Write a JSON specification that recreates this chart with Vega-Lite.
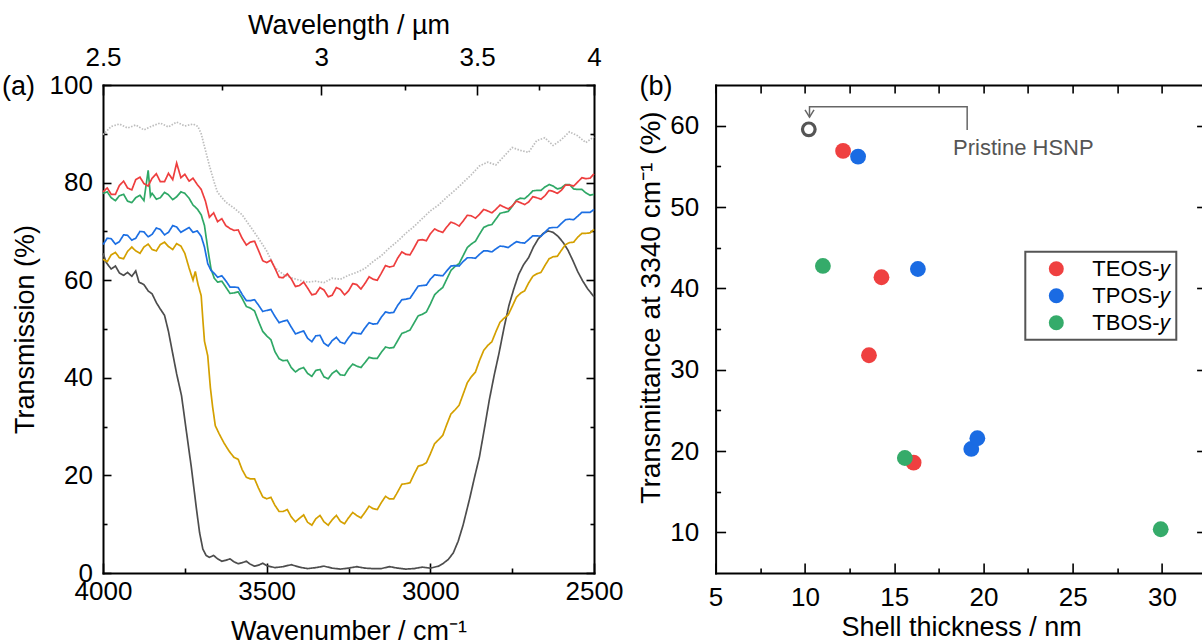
{
"$schema": "https://vega.github.io/schema/vega-lite/v6.json",
"background": "white",
"padding": {"left": 2, "top": 11, "right": 0, "bottom": 0},
"bounds": "flush",
"spacing": 121.6,
"resolve": {"scale": {"color": "independent", "strokeDash": "independent"}, "legend": {"color": "independent"}},
"config": {
  "font": "Liberation Sans",
  "view": {"stroke": null},
  "axis": {"domainColor": "#000", "domainWidth": 2, "domainCap": "square", "tickColor": "#000", "tickWidth": 1.6, "labelColor": "#000", "titleColor": "#000", "labelFontSize": 26, "titleFontSize": 27, "titleFontWeight": "normal", "grid": false, "labelFont": "Liberation Sans", "titleFont": "Liberation Sans", "labelOverlap": false, "labelFlush": false},
  "legend": {"strokeWidth": 2}
},
"datasets": {
  "spectra": [
{"s":"p","w":4000,"t":89.8},{"s":"p","w":3975,"t":91.5},{"s":"p","w":3950,"t":92.0},{"s":"p","w":3925,"t":91.2},{"s":"p","w":3900,"t":91.8},{"s":"p","w":3875,"t":90.8},{"s":"p","w":3850,"t":91.6},{"s":"p","w":3825,"t":92.2},{"s":"p","w":3800,"t":91.4},{"s":"p","w":3775,"t":92.4},{"s":"p","w":3750,"t":91.6},{"s":"p","w":3725,"t":92.0},{"s":"p","w":3710,"t":91.5},{"s":"p","w":3700,"t":90.0},{"s":"p","w":3690,"t":87.4},{"s":"p","w":3675,"t":83.5},{"s":"p","w":3660,"t":80.0},{"s":"p","w":3650,"t":78.0},{"s":"p","w":3625,"t":76.0},{"s":"p","w":3600,"t":74.8},{"s":"p","w":3575,"t":73.4},{"s":"p","w":3550,"t":71.0},{"s":"p","w":3525,"t":68.6},{"s":"p","w":3500,"t":66.0},{"s":"p","w":3475,"t":62.6},{"s":"p","w":3450,"t":61.2},{"s":"p","w":3425,"t":60.5},{"s":"p","w":3400,"t":60.0},{"s":"p","w":3375,"t":59.6},{"s":"p","w":3350,"t":59.8},{"s":"p","w":3325,"t":59.5},{"s":"p","w":3300,"t":60.4},{"s":"p","w":3275,"t":60.2},{"s":"p","w":3250,"t":61.0},{"s":"p","w":3225,"t":61.6},{"s":"p","w":3200,"t":62.4},{"s":"p","w":3175,"t":63.8},{"s":"p","w":3150,"t":65.0},{"s":"p","w":3125,"t":66.6},{"s":"p","w":3100,"t":68.0},{"s":"p","w":3075,"t":69.6},{"s":"p","w":3050,"t":71.0},{"s":"p","w":3025,"t":72.6},{"s":"p","w":3000,"t":74.2},{"s":"p","w":2975,"t":75.4},{"s":"p","w":2950,"t":77.0},{"s":"p","w":2925,"t":78.4},{"s":"p","w":2900,"t":80.0},{"s":"p","w":2875,"t":81.6},{"s":"p","w":2850,"t":83.4},{"s":"p","w":2825,"t":84.2},{"s":"p","w":2800,"t":83.6},{"s":"p","w":2775,"t":85.4},{"s":"p","w":2750,"t":87.2},{"s":"p","w":2725,"t":86.6},{"s":"p","w":2700,"t":86.2},{"s":"p","w":2675,"t":88.6},{"s":"p","w":2650,"t":89.2},{"s":"p","w":2625,"t":87.6},{"s":"p","w":2600,"t":88.8},{"s":"p","w":2575,"t":90.4},{"s":"p","w":2550,"t":89.6},{"s":"p","w":2525,"t":88.2},{"s":"p","w":2500,"t":89.4},
{"s":"k","w":4000,"t":65.5},{"s":"k","w":3990,"t":63.6},{"s":"k","w":3975,"t":62.3},{"s":"k","w":3962,"t":62.9},{"s":"k","w":3950,"t":61.5},{"s":"k","w":3937,"t":61.0},{"s":"k","w":3925,"t":61.6},{"s":"k","w":3912,"t":60.8},{"s":"k","w":3900,"t":61.9},{"s":"k","w":3890,"t":59.6},{"s":"k","w":3875,"t":59.1},{"s":"k","w":3862,"t":57.8},{"s":"k","w":3850,"t":57.2},{"s":"k","w":3837,"t":55.4},{"s":"k","w":3825,"t":54.1},{"s":"k","w":3812,"t":52.8},{"s":"k","w":3800,"t":49.5},{"s":"k","w":3790,"t":46.0},{"s":"k","w":3775,"t":40.8},{"s":"k","w":3760,"t":36.3},{"s":"k","w":3745,"t":28.9},{"s":"k","w":3730,"t":21.6},{"s":"k","w":3715,"t":13.4},{"s":"k","w":3705,"t":8.3},{"s":"k","w":3695,"t":4.9},{"s":"k","w":3685,"t":3.6},{"s":"k","w":3675,"t":3.2},{"s":"k","w":3662,"t":3.6},{"s":"k","w":3650,"t":2.9},{"s":"k","w":3637,"t":2.4},{"s":"k","w":3625,"t":2.6},{"s":"k","w":3612,"t":2.9},{"s":"k","w":3600,"t":2.3},{"s":"k","w":3587,"t":1.9},{"s":"k","w":3575,"t":2.1},{"s":"k","w":3562,"t":2.4},{"s":"k","w":3550,"t":1.8},{"s":"k","w":3537,"t":1.4},{"s":"k","w":3525,"t":1.6},{"s":"k","w":3512,"t":2.0},{"s":"k","w":3500,"t":1.5},{"s":"k","w":3475,"t":1.1},{"s":"k","w":3450,"t":1.3},{"s":"k","w":3425,"t":1.7},{"s":"k","w":3400,"t":1.2},{"s":"k","w":3375,"t":0.9},{"s":"k","w":3350,"t":1.1},{"s":"k","w":3325,"t":1.4},{"s":"k","w":3300,"t":1.0},{"s":"k","w":3275,"t":0.8},{"s":"k","w":3250,"t":1.0},{"s":"k","w":3225,"t":1.3},{"s":"k","w":3200,"t":1.0},{"s":"k","w":3175,"t":0.9},{"s":"k","w":3150,"t":0.9},{"s":"k","w":3125,"t":1.3},{"s":"k","w":3100,"t":1.0},{"s":"k","w":3075,"t":0.8},{"s":"k","w":3050,"t":0.9},{"s":"k","w":3025,"t":1.2},{"s":"k","w":3000,"t":1.0},{"s":"k","w":2975,"t":1.4},{"s":"k","w":2960,"t":2.0},{"s":"k","w":2945,"t":2.8},{"s":"k","w":2930,"t":4.1},{"s":"k","w":2915,"t":6.5},{"s":"k","w":2900,"t":9.8},{"s":"k","w":2880,"t":15.2},{"s":"k","w":2865,"t":19.6},{"s":"k","w":2850,"t":23.8},{"s":"k","w":2835,"t":29.5},{"s":"k","w":2820,"t":35.4},{"s":"k","w":2805,"t":40.5},{"s":"k","w":2790,"t":45.1},{"s":"k","w":2775,"t":50.2},{"s":"k","w":2760,"t":54.8},{"s":"k","w":2745,"t":58.2},{"s":"k","w":2730,"t":61.2},{"s":"k","w":2715,"t":63.2},{"s":"k","w":2700,"t":64.6},{"s":"k","w":2685,"t":66.8},{"s":"k","w":2670,"t":68.5},{"s":"k","w":2655,"t":69.6},{"s":"k","w":2640,"t":70.1},{"s":"k","w":2625,"t":69.8},{"s":"k","w":2610,"t":69.0},{"s":"k","w":2595,"t":67.8},{"s":"k","w":2580,"t":66.2},{"s":"k","w":2565,"t":64.1},{"s":"k","w":2550,"t":61.8},{"s":"k","w":2535,"t":59.9},{"s":"k","w":2520,"t":58.3},{"s":"k","w":2500,"t":56.6},
{"s":"o","w":4000,"t":64.3},{"s":"o","w":3987,"t":63.8},{"s":"o","w":3975,"t":65.2},{"s":"o","w":3962,"t":65.7},{"s":"o","w":3950,"t":64.6},{"s":"o","w":3937,"t":64.4},{"s":"o","w":3925,"t":65.9},{"s":"o","w":3912,"t":66.8},{"s":"o","w":3900,"t":66.0},{"s":"o","w":3887,"t":65.5},{"s":"o","w":3875,"t":66.8},{"s":"o","w":3862,"t":67.4},{"s":"o","w":3850,"t":66.3},{"s":"o","w":3837,"t":66.0},{"s":"o","w":3825,"t":67.3},{"s":"o","w":3812,"t":67.8},{"s":"o","w":3800,"t":66.9},{"s":"o","w":3787,"t":66.3},{"s":"o","w":3775,"t":67.5},{"s":"o","w":3762,"t":67.0},{"s":"o","w":3750,"t":65.5},{"s":"o","w":3737,"t":62.5},{"s":"o","w":3725,"t":60.0},{"s":"o","w":3718,"t":61.8},{"s":"o","w":3710,"t":59.2},{"s":"o","w":3700,"t":56.8},{"s":"o","w":3695,"t":52.0},{"s":"o","w":3690,"t":47.5},{"s":"o","w":3680,"t":44.5},{"s":"o","w":3672,"t":38.0},{"s":"o","w":3665,"t":34.0},{"s":"o","w":3657,"t":30.2},{"s":"o","w":3645,"t":28.5},{"s":"o","w":3630,"t":26.6},{"s":"o","w":3615,"t":25.0},{"s":"o","w":3600,"t":23.7},{"s":"o","w":3587,"t":23.3},{"s":"o","w":3575,"t":21.2},{"s":"o","w":3562,"t":19.6},{"s":"o","w":3550,"t":19.3},{"s":"o","w":3537,"t":19.3},{"s":"o","w":3525,"t":17.4},{"s":"o","w":3512,"t":15.6},{"s":"o","w":3500,"t":15.2},{"s":"o","w":3487,"t":15.5},{"s":"o","w":3475,"t":13.9},{"s":"o","w":3462,"t":12.6},{"s":"o","w":3450,"t":12.6},{"s":"o","w":3437,"t":13.0},{"s":"o","w":3425,"t":11.5},{"s":"o","w":3412,"t":10.5},{"s":"o","w":3400,"t":11.2},{"s":"o","w":3387,"t":11.9},{"s":"o","w":3375,"t":10.4},{"s":"o","w":3362,"t":9.8},{"s":"o","w":3350,"t":11.1},{"s":"o","w":3337,"t":11.8},{"s":"o","w":3325,"t":10.5},{"s":"o","w":3312,"t":9.8},{"s":"o","w":3300,"t":10.9},{"s":"o","w":3287,"t":11.8},{"s":"o","w":3275,"t":10.6},{"s":"o","w":3262,"t":10.1},{"s":"o","w":3250,"t":11.3},{"s":"o","w":3237,"t":12.4},{"s":"o","w":3225,"t":11.8},{"s":"o","w":3212,"t":11.3},{"s":"o","w":3200,"t":12.4},{"s":"o","w":3187,"t":13.7},{"s":"o","w":3175,"t":13.2},{"s":"o","w":3162,"t":13.0},{"s":"o","w":3150,"t":14.4},{"s":"o","w":3137,"t":15.7},{"s":"o","w":3125,"t":15.2},{"s":"o","w":3112,"t":15.2},{"s":"o","w":3100,"t":16.6},{"s":"o","w":3087,"t":18.2},{"s":"o","w":3075,"t":18.3},{"s":"o","w":3062,"t":18.5},{"s":"o","w":3050,"t":20.2},{"s":"o","w":3037,"t":21.9},{"s":"o","w":3025,"t":22.1},{"s":"o","w":3012,"t":22.6},{"s":"o","w":3000,"t":24.4},{"s":"o","w":2987,"t":26.5},{"s":"o","w":2975,"t":27.3},{"s":"o","w":2962,"t":28.2},{"s":"o","w":2950,"t":30.4},{"s":"o","w":2937,"t":32.6},{"s":"o","w":2925,"t":33.4},{"s":"o","w":2912,"t":34.4},{"s":"o","w":2900,"t":36.6},{"s":"o","w":2887,"t":39.0},{"s":"o","w":2875,"t":40.2},{"s":"o","w":2862,"t":41.2},{"s":"o","w":2850,"t":43.5},{"s":"o","w":2837,"t":45.6},{"s":"o","w":2825,"t":46.6},{"s":"o","w":2812,"t":47.4},{"s":"o","w":2800,"t":49.4},{"s":"o","w":2787,"t":51.4},{"s":"o","w":2775,"t":52.2},{"s":"o","w":2762,"t":52.9},{"s":"o","w":2750,"t":54.6},{"s":"o","w":2737,"t":56.5},{"s":"o","w":2725,"t":57.3},{"s":"o","w":2712,"t":57.8},{"s":"o","w":2700,"t":59.4},{"s":"o","w":2687,"t":60.8},{"s":"o","w":2675,"t":61.3},{"s":"o","w":2662,"t":61.6},{"s":"o","w":2650,"t":63.0},{"s":"o","w":2637,"t":64.4},{"s":"o","w":2625,"t":64.8},{"s":"o","w":2612,"t":64.9},{"s":"o","w":2600,"t":66.1},{"s":"o","w":2587,"t":67.3},{"s":"o","w":2575,"t":67.7},{"s":"o","w":2562,"t":67.8},{"s":"o","w":2550,"t":68.8},{"s":"o","w":2537,"t":69.6},{"s":"o","w":2525,"t":69.6},{"s":"o","w":2512,"t":69.7},{"s":"o","w":2500,"t":70.4},
{"s":"g","w":4000,"t":77.8},{"s":"g","w":3987,"t":78.1},{"s":"g","w":3975,"t":76.9},{"s":"g","w":3962,"t":76.3},{"s":"g","w":3950,"t":77.3},{"s":"g","w":3937,"t":77.6},{"s":"g","w":3925,"t":76.2},{"s":"g","w":3912,"t":75.9},{"s":"g","w":3900,"t":76.9},{"s":"g","w":3887,"t":77.4},{"s":"g","w":3875,"t":76.3},{"s":"g","w":3862,"t":82.5},{"s":"g","w":3855,"t":77.2},{"s":"g","w":3850,"t":77.8},{"s":"g","w":3837,"t":76.6},{"s":"g","w":3825,"t":76.9},{"s":"g","w":3812,"t":78.0},{"s":"g","w":3800,"t":77.5},{"s":"g","w":3787,"t":76.5},{"s":"g","w":3775,"t":77.1},{"s":"g","w":3762,"t":78.1},{"s":"g","w":3750,"t":77.8},{"s":"g","w":3737,"t":76.8},{"s":"g","w":3725,"t":75.4},{"s":"g","w":3712,"t":74.6},{"s":"g","w":3700,"t":73.4},{"s":"g","w":3690,"t":71.2},{"s":"g","w":3680,"t":66.5},{"s":"g","w":3670,"t":62.3},{"s":"g","w":3660,"t":60.4},{"s":"g","w":3650,"t":59.6},{"s":"g","w":3637,"t":59.8},{"s":"g","w":3625,"t":58.6},{"s":"g","w":3612,"t":57.3},{"s":"g","w":3600,"t":57.4},{"s":"g","w":3587,"t":57.6},{"s":"g","w":3575,"t":56.3},{"s":"g","w":3562,"t":54.6},{"s":"g","w":3550,"t":54.3},{"s":"g","w":3537,"t":53.7},{"s":"g","w":3525,"t":51.6},{"s":"g","w":3512,"t":49.5},{"s":"g","w":3500,"t":48.6},{"s":"g","w":3487,"t":47.8},{"s":"g","w":3475,"t":45.4},{"s":"g","w":3462,"t":43.9},{"s":"g","w":3450,"t":43.5},{"s":"g","w":3437,"t":43.6},{"s":"g","w":3425,"t":42.1},{"s":"g","w":3412,"t":41.2},{"s":"g","w":3400,"t":41.8},{"s":"g","w":3387,"t":42.1},{"s":"g","w":3375,"t":40.9},{"s":"g","w":3362,"t":40.3},{"s":"g","w":3350,"t":41.5},{"s":"g","w":3337,"t":41.7},{"s":"g","w":3325,"t":40.2},{"s":"g","w":3312,"t":39.8},{"s":"g","w":3300,"t":40.9},{"s":"g","w":3287,"t":41.5},{"s":"g","w":3275,"t":40.6},{"s":"g","w":3262,"t":40.5},{"s":"g","w":3250,"t":41.8},{"s":"g","w":3237,"t":42.8},{"s":"g","w":3225,"t":42.4},{"s":"g","w":3212,"t":42.1},{"s":"g","w":3200,"t":43.1},{"s":"g","w":3187,"t":44.2},{"s":"g","w":3175,"t":44.0},{"s":"g","w":3162,"t":44.0},{"s":"g","w":3150,"t":45.2},{"s":"g","w":3137,"t":46.3},{"s":"g","w":3125,"t":46.1},{"s":"g","w":3112,"t":46.2},{"s":"g","w":3100,"t":47.6},{"s":"g","w":3087,"t":49.1},{"s":"g","w":3075,"t":49.4},{"s":"g","w":3062,"t":49.8},{"s":"g","w":3050,"t":51.2},{"s":"g","w":3037,"t":52.7},{"s":"g","w":3025,"t":53.0},{"s":"g","w":3012,"t":53.5},{"s":"g","w":3000,"t":55.1},{"s":"g","w":2987,"t":57.0},{"s":"g","w":2975,"t":57.8},{"s":"g","w":2962,"t":58.5},{"s":"g","w":2950,"t":60.2},{"s":"g","w":2937,"t":62.0},{"s":"g","w":2925,"t":62.8},{"s":"g","w":2912,"t":63.4},{"s":"g","w":2900,"t":65.0},{"s":"g","w":2887,"t":66.7},{"s":"g","w":2875,"t":67.4},{"s":"g","w":2862,"t":68.0},{"s":"g","w":2850,"t":69.4},{"s":"g","w":2837,"t":70.8},{"s":"g","w":2825,"t":71.2},{"s":"g","w":2812,"t":71.4},{"s":"g","w":2800,"t":72.5},{"s":"g","w":2787,"t":73.7},{"s":"g","w":2775,"t":73.9},{"s":"g","w":2762,"t":74.1},{"s":"g","w":2750,"t":75.1},{"s":"g","w":2737,"t":76.4},{"s":"g","w":2725,"t":76.8},{"s":"g","w":2712,"t":76.7},{"s":"g","w":2700,"t":77.4},{"s":"g","w":2687,"t":78.3},{"s":"g","w":2675,"t":78.4},{"s":"g","w":2662,"t":78.4},{"s":"g","w":2650,"t":79.1},{"s":"g","w":2637,"t":79.6},{"s":"g","w":2625,"t":79.3},{"s":"g","w":2612,"t":78.7},{"s":"g","w":2600,"t":78.9},{"s":"g","w":2587,"t":79.6},{"s":"g","w":2575,"t":79.6},{"s":"g","w":2562,"t":78.7},{"s":"g","w":2550,"t":78.6},{"s":"g","w":2537,"t":78.6},{"s":"g","w":2525,"t":77.9},{"s":"g","w":2512,"t":77.4},{"s":"g","w":2500,"t":77.6},
{"s":"b","w":4000,"t":67.3},{"s":"b","w":3987,"t":68.6},{"s":"b","w":3975,"t":68.5},{"s":"b","w":3962,"t":67.4},{"s":"b","w":3950,"t":67.9},{"s":"b","w":3937,"t":69.3},{"s":"b","w":3925,"t":69.2},{"s":"b","w":3912,"t":68.2},{"s":"b","w":3900,"t":68.6},{"s":"b","w":3887,"t":70.0},{"s":"b","w":3875,"t":69.9},{"s":"b","w":3862,"t":68.9},{"s":"b","w":3850,"t":69.4},{"s":"b","w":3837,"t":70.7},{"s":"b","w":3825,"t":70.4},{"s":"b","w":3812,"t":69.3},{"s":"b","w":3800,"t":69.8},{"s":"b","w":3787,"t":71.2},{"s":"b","w":3775,"t":70.9},{"s":"b","w":3762,"t":69.8},{"s":"b","w":3750,"t":70.3},{"s":"b","w":3737,"t":70.8},{"s":"b","w":3725,"t":69.8},{"s":"b","w":3712,"t":70.1},{"s":"b","w":3700,"t":69.0},{"s":"b","w":3690,"t":66.8},{"s":"b","w":3680,"t":63.4},{"s":"b","w":3670,"t":62.0},{"s":"b","w":3660,"t":61.4},{"s":"b","w":3650,"t":60.6},{"s":"b","w":3637,"t":60.9},{"s":"b","w":3625,"t":59.9},{"s":"b","w":3612,"t":58.6},{"s":"b","w":3600,"t":58.6},{"s":"b","w":3587,"t":58.5},{"s":"b","w":3575,"t":57.1},{"s":"b","w":3562,"t":55.8},{"s":"b","w":3550,"t":55.8},{"s":"b","w":3537,"t":56.0},{"s":"b","w":3525,"t":54.9},{"s":"b","w":3512,"t":53.6},{"s":"b","w":3500,"t":53.8},{"s":"b","w":3487,"t":54.0},{"s":"b","w":3475,"t":52.6},{"s":"b","w":3462,"t":51.3},{"s":"b","w":3450,"t":51.6},{"s":"b","w":3437,"t":51.8},{"s":"b","w":3425,"t":50.4},{"s":"b","w":3412,"t":49.0},{"s":"b","w":3400,"t":49.3},{"s":"b","w":3387,"t":49.6},{"s":"b","w":3375,"t":48.1},{"s":"b","w":3362,"t":47.4},{"s":"b","w":3350,"t":48.6},{"s":"b","w":3337,"t":48.7},{"s":"b","w":3325,"t":47.1},{"s":"b","w":3312,"t":46.5},{"s":"b","w":3300,"t":47.6},{"s":"b","w":3287,"t":48.3},{"s":"b","w":3275,"t":47.3},{"s":"b","w":3262,"t":47.0},{"s":"b","w":3250,"t":48.2},{"s":"b","w":3237,"t":49.3},{"s":"b","w":3225,"t":49.1},{"s":"b","w":3212,"t":49.0},{"s":"b","w":3200,"t":50.2},{"s":"b","w":3187,"t":51.3},{"s":"b","w":3175,"t":51.0},{"s":"b","w":3162,"t":51.1},{"s":"b","w":3150,"t":52.4},{"s":"b","w":3137,"t":53.5},{"s":"b","w":3125,"t":53.3},{"s":"b","w":3112,"t":53.4},{"s":"b","w":3100,"t":54.8},{"s":"b","w":3087,"t":56.0},{"s":"b","w":3075,"t":56.1},{"s":"b","w":3062,"t":56.3},{"s":"b","w":3050,"t":57.5},{"s":"b","w":3037,"t":58.8},{"s":"b","w":3025,"t":58.9},{"s":"b","w":3012,"t":59.0},{"s":"b","w":3000,"t":60.2},{"s":"b","w":2987,"t":61.1},{"s":"b","w":2975,"t":61.0},{"s":"b","w":2962,"t":60.9},{"s":"b","w":2950,"t":61.9},{"s":"b","w":2937,"t":62.9},{"s":"b","w":2925,"t":63.0},{"s":"b","w":2912,"t":62.9},{"s":"b","w":2900,"t":63.8},{"s":"b","w":2887,"t":64.6},{"s":"b","w":2875,"t":64.6},{"s":"b","w":2862,"t":64.5},{"s":"b","w":2850,"t":65.3},{"s":"b","w":2837,"t":66.0},{"s":"b","w":2825,"t":66.0},{"s":"b","w":2812,"t":65.8},{"s":"b","w":2800,"t":66.4},{"s":"b","w":2787,"t":67.0},{"s":"b","w":2775,"t":66.9},{"s":"b","w":2762,"t":66.7},{"s":"b","w":2750,"t":67.3},{"s":"b","w":2737,"t":67.9},{"s":"b","w":2725,"t":67.7},{"s":"b","w":2712,"t":67.6},{"s":"b","w":2700,"t":68.3},{"s":"b","w":2687,"t":69.1},{"s":"b","w":2675,"t":69.1},{"s":"b","w":2662,"t":69.0},{"s":"b","w":2650,"t":69.8},{"s":"b","w":2637,"t":70.7},{"s":"b","w":2625,"t":70.8},{"s":"b","w":2612,"t":70.8},{"s":"b","w":2600,"t":71.6},{"s":"b","w":2587,"t":72.4},{"s":"b","w":2575,"t":72.5},{"s":"b","w":2562,"t":72.4},{"s":"b","w":2550,"t":73.1},{"s":"b","w":2537,"t":73.9},{"s":"b","w":2525,"t":73.9},{"s":"b","w":2512,"t":73.9},{"s":"b","w":2500,"t":74.5},
{"s":"r","w":4000,"t":78.1},{"s":"r","w":3987,"t":78.9},{"s":"r","w":3975,"t":77.6},{"s":"r","w":3962,"t":77.6},{"s":"r","w":3950,"t":79.4},{"s":"r","w":3937,"t":80.3},{"s":"r","w":3925,"t":78.9},{"s":"r","w":3912,"t":78.5},{"s":"r","w":3900,"t":80.6},{"s":"r","w":3887,"t":81.1},{"s":"r","w":3875,"t":79.8},{"s":"r","w":3862,"t":79.3},{"s":"r","w":3850,"t":80.9},{"s":"r","w":3837,"t":81.8},{"s":"r","w":3825,"t":80.2},{"s":"r","w":3812,"t":80.2},{"s":"r","w":3800,"t":81.9},{"s":"r","w":3787,"t":80.6},{"s":"r","w":3775,"t":84.0},{"s":"r","w":3762,"t":81.0},{"s":"r","w":3750,"t":81.7},{"s":"r","w":3737,"t":80.3},{"s":"r","w":3725,"t":80.9},{"s":"r","w":3712,"t":79.6},{"s":"r","w":3700,"t":78.6},{"s":"r","w":3687,"t":76.2},{"s":"r","w":3675,"t":72.9},{"s":"r","w":3662,"t":73.8},{"s":"r","w":3650,"t":72.0},{"s":"r","w":3637,"t":72.6},{"s":"r","w":3625,"t":71.2},{"s":"r","w":3612,"t":70.6},{"s":"r","w":3600,"t":70.2},{"s":"r","w":3587,"t":70.3},{"s":"r","w":3575,"t":68.6},{"s":"r","w":3562,"t":67.2},{"s":"r","w":3550,"t":67.8},{"s":"r","w":3537,"t":68.0},{"s":"r","w":3525,"t":66.1},{"s":"r","w":3512,"t":64.0},{"s":"r","w":3500,"t":63.6},{"s":"r","w":3487,"t":64.1},{"s":"r","w":3475,"t":62.5},{"s":"r","w":3462,"t":60.6},{"s":"r","w":3450,"t":60.5},{"s":"r","w":3437,"t":61.3},{"s":"r","w":3425,"t":60.3},{"s":"r","w":3412,"t":58.7},{"s":"r","w":3400,"t":58.9},{"s":"r","w":3387,"t":59.6},{"s":"r","w":3375,"t":58.4},{"s":"r","w":3362,"t":57.0},{"s":"r","w":3350,"t":57.2},{"s":"r","w":3337,"t":58.5},{"s":"r","w":3325,"t":58.0},{"s":"r","w":3312,"t":56.6},{"s":"r","w":3300,"t":56.9},{"s":"r","w":3287,"t":58.5},{"s":"r","w":3275,"t":58.1},{"s":"r","w":3262,"t":57.0},{"s":"r","w":3250,"t":57.8},{"s":"r","w":3237,"t":59.3},{"s":"r","w":3225,"t":59.1},{"s":"r","w":3212,"t":58.2},{"s":"r","w":3200,"t":59.3},{"s":"r","w":3187,"t":60.7},{"s":"r","w":3175,"t":60.2},{"s":"r","w":3162,"t":60.0},{"s":"r","w":3150,"t":61.4},{"s":"r","w":3137,"t":63.0},{"s":"r","w":3125,"t":62.7},{"s":"r","w":3112,"t":62.9},{"s":"r","w":3100,"t":64.5},{"s":"r","w":3087,"t":65.8},{"s":"r","w":3075,"t":65.3},{"s":"r","w":3062,"t":65.2},{"s":"r","w":3050,"t":66.6},{"s":"r","w":3037,"t":68.2},{"s":"r","w":3025,"t":68.3},{"s":"r","w":3012,"t":68.1},{"s":"r","w":3000,"t":69.5},{"s":"r","w":2987,"t":70.5},{"s":"r","w":2975,"t":70.1},{"s":"r","w":2962,"t":69.8},{"s":"r","w":2950,"t":70.9},{"s":"r","w":2937,"t":71.9},{"s":"r","w":2925,"t":71.6},{"s":"r","w":2912,"t":71.1},{"s":"r","w":2900,"t":72.1},{"s":"r","w":2887,"t":73.3},{"s":"r","w":2875,"t":73.2},{"s":"r","w":2862,"t":72.7},{"s":"r","w":2850,"t":73.5},{"s":"r","w":2837,"t":74.5},{"s":"r","w":2825,"t":74.2},{"s":"r","w":2812,"t":73.8},{"s":"r","w":2800,"t":74.5},{"s":"r","w":2787,"t":75.4},{"s":"r","w":2775,"t":75.0},{"s":"r","w":2762,"t":74.6},{"s":"r","w":2750,"t":75.2},{"s":"r","w":2737,"t":76.2},{"s":"r","w":2725,"t":75.9},{"s":"r","w":2712,"t":75.5},{"s":"r","w":2700,"t":76.0},{"s":"r","w":2687,"t":77.1},{"s":"r","w":2675,"t":76.9},{"s":"r","w":2662,"t":76.6},{"s":"r","w":2650,"t":77.3},{"s":"r","w":2637,"t":78.4},{"s":"r","w":2625,"t":78.2},{"s":"r","w":2612,"t":77.8},{"s":"r","w":2600,"t":78.4},{"s":"r","w":2587,"t":79.5},{"s":"r","w":2575,"t":79.5},{"s":"r","w":2562,"t":79.3},{"s":"r","w":2550,"t":80.1},{"s":"r","w":2537,"t":81.0},{"s":"r","w":2525,"t":80.8},{"s":"r","w":2512,"t":80.9},{"s":"r","w":2500,"t":81.8}
  ],
  "shell": [
{"grp":"TEOS-𝑦","sh":12.14,"tr":56.9},{"grp":"TEOS-𝑦","sh":14.29,"tr":41.36},{"grp":"TEOS-𝑦","sh":13.59,"tr":31.77},{"grp":"TEOS-𝑦","sh":16.09,"tr":18.57},
{"grp":"TPOS-𝑦","sh":12.98,"tr":56.2},{"grp":"TPOS-𝑦","sh":16.33,"tr":42.38},{"grp":"TPOS-𝑦","sh":19.32,"tr":20.25},{"grp":"TPOS-𝑦","sh":19.66,"tr":21.57},
{"grp":"TBOS-𝑦","sh":11.01,"tr":42.75},{"grp":"TBOS-𝑦","sh":15.6,"tr":19.14},{"grp":"TBOS-𝑦","sh":29.93,"tr":10.38}
  ]
},
"hconcat": [
 {
  "width": 491, "height": 488,
  "resolve": {"axis": {"x": "independent", "y": "independent"}},
  "layer": [
   {
    "data": {"name": "spectra"},
    "mark": {"type": "line", "strokeWidth": 1.7},
    "encoding": {
     "x": {"field": "w", "type": "quantitative", "scale": {"domain": [4000, 2500], "nice": false, "zero": false},
           "axis": {"orient": "bottom", "values": [4000, 3500, 3000, 2500], "format": "d", "tickSize": -10, "labelPadding": 15, "title": "Wavenumber / cm⁻¹", "titlePadding": 14}},
     "y": {"field": "t", "type": "quantitative", "scale": {"domain": [0, 100], "nice": false, "zero": false},
           "axis": {"orient": "left", "values": [0, 20, 40, 60, 80, 100], "tickSize": -8, "labelPadding": 18.5, "title": "Transmission (%)", "titlePadding": 9.6}},
     "color": {"field": "s", "type": "nominal", "scale": {"domain": ["p", "k", "o", "g", "b", "r"], "range": ["#bdbdbd", "#4d4d4d", "#d4a000", "#2fa866", "#1c6fe3", "#ee3e3e"]}, "legend": null},
     "strokeDash": {"field": "s", "type": "nominal", "scale": {"domain": ["p", "k", "o", "g", "b", "r"], "range": [[1.5, 1.5], [1, 0], [1, 0], [1, 0], [1, 0], [1, 0]]}, "legend": null}
    }
   },
   {
    "data": {"values": [{"w": 4000, "t": 0}]},
    "mark": {"type": "point", "opacity": 0},
    "encoding": {
     "x": {"field": "w", "type": "quantitative", "axis": {"orient": "bottom", "values": [3750, 3250, 2750], "tickSize": -5, "labels": false, "domain": false, "title": null}},
     "y": {"field": "t", "type": "quantitative", "axis": {"orient": "left", "values": [10, 30, 50, 70, 90], "tickSize": -4, "labels": false, "domain": false, "title": null}}
    }
   },
   {
    "data": {"values": [{"w": 4000, "t": 0}]},
    "mark": {"type": "point", "opacity": 0},
    "encoding": {
     "x": {"field": "w", "type": "quantitative", "axis": {"orient": "top", "values": [4000, 3333.3333, 2857.142857, 2500], "labelExpr": "format(10000 / datum.value, '.2~f')", "tickSize": -10, "labelPadding": 24.5, "title": "Wavelength / µm", "titlePadding": 5}},
     "y": {"field": "t", "type": "quantitative", "axis": {"orient": "right", "values": [0, 20, 40, 60, 80, 100], "tickSize": -8, "labels": false, "title": null}}
    }
   },
   {
    "data": {"values": [{"w": 4000, "t": 0}]},
    "mark": {"type": "point", "opacity": 0},
    "encoding": {
     "x": {"field": "w", "type": "quantitative", "axis": {"orient": "top", "values": [3636.3636, 3076.923, 2666.6667], "tickSize": -5, "labels": false, "domain": false, "title": null}},
     "y": {"field": "t", "type": "quantitative", "axis": {"orient": "right", "values": [10, 30, 50, 70, 90], "tickSize": -4, "labels": false, "domain": false, "title": null}}
    }
   },
   {
    "data": {"values": [{"lab": "(a)", "w": 4258, "t": 99.6}]},
    "mark": {"type": "text", "fontSize": 27, "align": "center", "baseline": "middle", "color": "#000"},
    "encoding": {
     "x": {"field": "w", "type": "quantitative", "axis": null},
     "y": {"field": "t", "type": "quantitative", "axis": null},
     "text": {"field": "lab"}
    }
   }
  ]
 },
 {
  "width": 491, "height": 488,
  "resolve": {"axis": {"x": "independent", "y": "independent"}},
  "layer": [
   {
    "data": {"values": [{"x": 10.26, "y": 61.05, "o": 1}, {"x": 10.26, "y": 62.33, "o": 2}, {"x": 19.09, "y": 62.33, "o": 3}, {"x": 19.09, "y": 59.47, "o": 4}]},
    "mark": {"type": "line", "color": "#666", "strokeWidth": 1.5},
    "encoding": {
     "x": {"field": "x", "type": "quantitative", "scale": {"domain": [5, 32.5], "nice": false, "zero": false}, "axis": null},
     "y": {"field": "y", "type": "quantitative", "scale": {"domain": [5, 65], "nice": false, "zero": false}, "axis": null},
     "order": {"field": "o"}
    }
   },
   {
    "data": {"values": [{"x": 10.26, "y": 61.5}]},
    "mark": {"type": "point", "shape": "M-1,-0.8L0,0.8L1,-0.8", "filled": false, "stroke": "#666", "strokeWidth": 1.5, "size": 81, "opacity": 1},
    "encoding": {
     "x": {"field": "x", "type": "quantitative", "axis": null},
     "y": {"field": "y", "type": "quantitative", "axis": null}
    }
   },
   {
    "data": {"values": [{"lab": "Pristine HSNP", "x": 18.3, "y": 57.25}]},
    "mark": {"type": "text", "fontSize": 22, "align": "left", "baseline": "middle", "color": "#555"},
    "encoding": {
     "x": {"field": "x", "type": "quantitative", "axis": null},
     "y": {"field": "y", "type": "quantitative", "axis": null},
     "text": {"field": "lab"}
    }
   },
   {
    "data": {"values": [{"lab": "(b)", "x": 1.66, "y": 64.8}]},
    "mark": {"type": "text", "fontSize": 27, "align": "center", "baseline": "middle", "color": "#000"},
    "encoding": {
     "x": {"field": "x", "type": "quantitative", "axis": null},
     "y": {"field": "y", "type": "quantitative", "axis": null},
     "text": {"field": "lab"}
    }
   },
   {
    "data": {"values": [{"x": 10.22, "y": 59.55}]},
    "mark": {"type": "point", "filled": false, "stroke": "#555", "strokeWidth": 3.2, "size": 160, "opacity": 1},
    "encoding": {
     "x": {"field": "x", "type": "quantitative", "axis": null},
     "y": {"field": "y", "type": "quantitative", "axis": null}
    }
   },
   {
    "data": {"name": "shell"},
    "mark": {"type": "circle", "size": 250, "opacity": 1},
    "encoding": {
     "x": {"field": "sh", "type": "quantitative", "axis": {"orient": "bottom", "values": [5, 10, 15, 20, 25, 30], "tickSize": -10, "labelPadding": 21, "title": "Shell thickness / nm", "titlePadding": 4}},
     "y": {"field": "tr", "type": "quantitative", "axis": {"orient": "left", "values": [10, 20, 30, 40, 50, 60], "tickSize": -10, "labelPadding": 27, "title": "Transmittance at 3340 cm⁻¹ (%)", "titleFontSize": 28, "titlePadding": 4, "titleY": 222}},
     "color": {"field": "grp", "type": "nominal", "scale": {"domain": ["TEOS-𝑦", "TPOS-𝑦", "TBOS-𝑦"], "range": ["#ef4040", "#1a6be3", "#35ab6a"]},
       "legend": {"orient": "none", "legendX": 309.7, "legendY": 166.7, "title": null, "symbolType": "circle", "symbolSize": 225, "symbolStrokeWidth": 0, "labelFontSize": 22, "labelFont": "Liberation Sans", "labelColor": "#000", "strokeColor": "#555", "fillColor": "white", "padding": 6, "symbolOffset": 14, "labelOffset": 25, "rowPadding": 5}}
    }
   },
   {
    "data": {"values": [{"x": 5, "y": 5}]},
    "mark": {"type": "point", "opacity": 0},
    "encoding": {
     "x": {"field": "x", "type": "quantitative", "axis": {"orient": "bottom", "values": [7.5, 12.5, 17.5, 22.5, 27.5], "tickSize": -5, "labels": false, "domain": false, "title": null}},
     "y": {"field": "y", "type": "quantitative", "axis": {"orient": "left", "values": [15, 25, 35, 45, 55], "tickSize": -5, "labels": false, "domain": false, "title": null}}
    }
   },
   {
    "data": {"values": [{"x": 5, "y": 5}]},
    "mark": {"type": "point", "opacity": 0},
    "encoding": {
     "x": {"field": "x", "type": "quantitative", "axis": {"orient": "top", "values": [5, 7.5, 10, 12.5, 15, 17.5, 20, 22.5, 25, 27.5, 30], "tickSize": -8, "labels": false, "title": null}},
     "y": {"field": "y", "type": "quantitative", "axis": {"orient": "right", "values": [10, 20, 30, 40, 50, 60], "tickSize": -10, "labels": false, "title": null}}
    }
   },
   {
    "data": {"values": [{"x": 5, "y": 5}]},
    "mark": {"type": "point", "opacity": 0},
    "encoding": {
     "x": {"field": "x", "type": "quantitative", "axis": null},
     "y": {"field": "y", "type": "quantitative", "axis": {"orient": "right", "values": [15, 25, 35, 45, 55], "tickSize": -5, "labels": false, "domain": false, "title": null}}
    }
   }
  ]
 }
]
}
